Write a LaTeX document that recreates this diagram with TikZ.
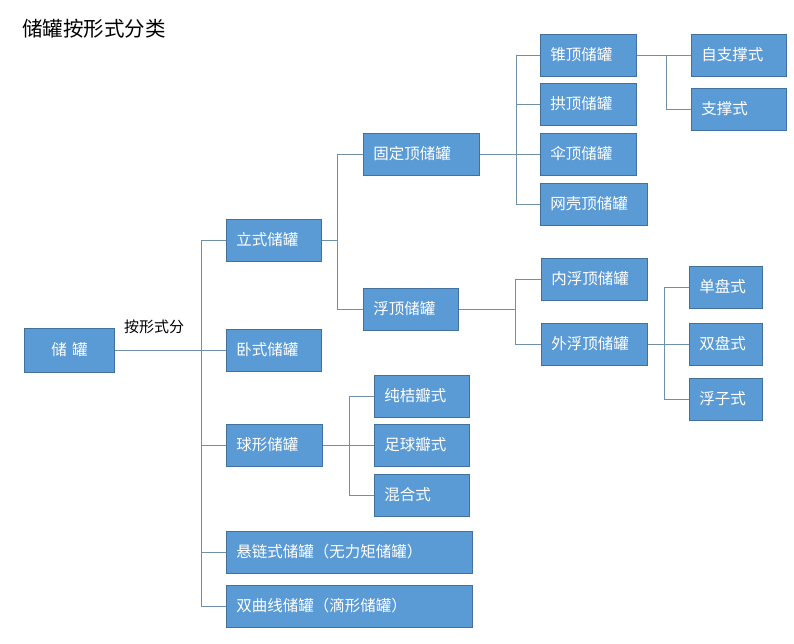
\documentclass[tikz,border=0pt]{standalone}
\usepackage{fontspec}
\newfontfamily\cjk{Noto Sans CJK SC}
\definecolor{boxfill}{HTML}{5B9BD5}
\definecolor{boxline}{HTML}{41719C}
\definecolor{wire}{HTML}{7090AA}
\begin{document}
\begin{tikzpicture}[x=1pt, y=-1pt,
  tank/.style={draw=boxline, line width=0.9pt, fill=boxfill, text=white,
    font=\cjk\fontsize{15.5}{16}\selectfont, anchor=west,
    minimum height=42pt, inner xsep=10pt, inner ysep=0pt, text width=#1, align=left},
  link/.style={draw=wire, line width=0.9pt}]
  \useasboundingbox (0,0) rectangle (794,643);

  % bus lines
  \coordinate (bA) at (201,0);
  \coordinate (bB) at (337,0);
  \coordinate (bC) at (516,0);
  \coordinate (bD) at (666,0);
  \coordinate (bE) at (515,0);
  \coordinate (bF) at (664,0);
  \coordinate (bG) at (349,0);

  \node[anchor=west, inner sep=0pt, font=\cjk\fontsize{20.5}{21}\selectfont] (title) at (22,29) {储罐按形式分类};

  \node[tank=70pt, minimum height=44pt, align=center] (root) at (24,350) {储\ 罐};
  \node[anchor=west, inner sep=0pt, font=\cjk\fontsize{15}{16}\selectfont] (by) at (124,327) {按形式分};

  \node[tank=75pt] (lishi) at (226,240) {立式储罐};
  \node[tank=75pt] (woshi) at (226,350) {卧式储罐};
  \node[tank=76pt] (qiuxing) at (226,445) {球形储罐};
  \node[tank=226pt] (xuanlian) at (226,552) {悬链式储罐（无力矩储罐）};
  \node[tank=226pt] (shuangqu) at (226,606) {双曲线储罐（滴形储罐）};

  \node[tank=96pt] (guding) at (363,154) {固定顶储罐};
  \node[tank=75pt] (fuding) at (363,309) {浮顶储罐};

  \node[tank=76pt] (zhui) at (540,55) {锥顶储罐};
  \node[tank=76pt] (gong) at (540,104) {拱顶储罐};
  \node[tank=76pt] (san) at (540,154) {伞顶储罐};
  \node[tank=87pt] (wangke) at (540,204) {网壳顶储罐};

  \node[tank=75pt] (zizhi) at (691,55) {自支撑式};
  \node[tank=75pt] (zhicheng) at (691,109) {支撑式};

  \node[tank=86pt] (neifu) at (541,279) {内浮顶储罐};
  \node[tank=86pt] (waifu) at (541,344) {外浮顶储罐};

  \node[tank=53pt] (danpan) at (689,287) {单盘式};
  \node[tank=53pt] (shuangpan) at (689,344) {双盘式};
  \node[tank=53pt] (fuzi) at (689,399) {浮子式};

  \node[tank=75pt] (juban) at (374,396) {纯桔瓣式};
  \node[tank=75pt] (zuqiu) at (374,445) {足球瓣式};
  \node[tank=75pt] (hunhe) at (374,495) {混合式};

  % connectors
  \draw[link] (root.east) -- (woshi.west);
  \draw[link] (lishi.west) -| (bA |- shuangqu.west) -- (shuangqu.west);
  \foreach \n in {qiuxing,xuanlian}
    \draw[link] (\n.west) -- (\n.west -| bA);

  \draw[link] (lishi.east) -- (lishi.east -| bB);
  \draw[link] (guding.west) -| (bB |- fuding.west) -- (fuding.west);

  \draw[link] (guding.east) -- (san.west);
  \draw[link] (zhui.west) -| (bC |- wangke.west) -- (wangke.west);
  \draw[link] (gong.west) -- (gong.west -| bC);

  \draw[link] (zhui.east) -- (zizhi.west);
  \draw[link] (zizhi.west -| bD) |- (zhicheng.west);

  \draw[link] (fuding.east) -- (fuding.east -| bE);
  \draw[link] (neifu.west) -| (bE |- waifu.west) -- (waifu.west);

  \draw[link] (waifu.east) -- (shuangpan.west);
  \draw[link] (danpan.west) -| (bF |- fuzi.west) -- (fuzi.west);

  \draw[link] (qiuxing.east) -- (zuqiu.west);
  \draw[link] (juban.west) -| (bG |- hunhe.west) -- (hunhe.west);
\end{tikzpicture}
\end{document}
